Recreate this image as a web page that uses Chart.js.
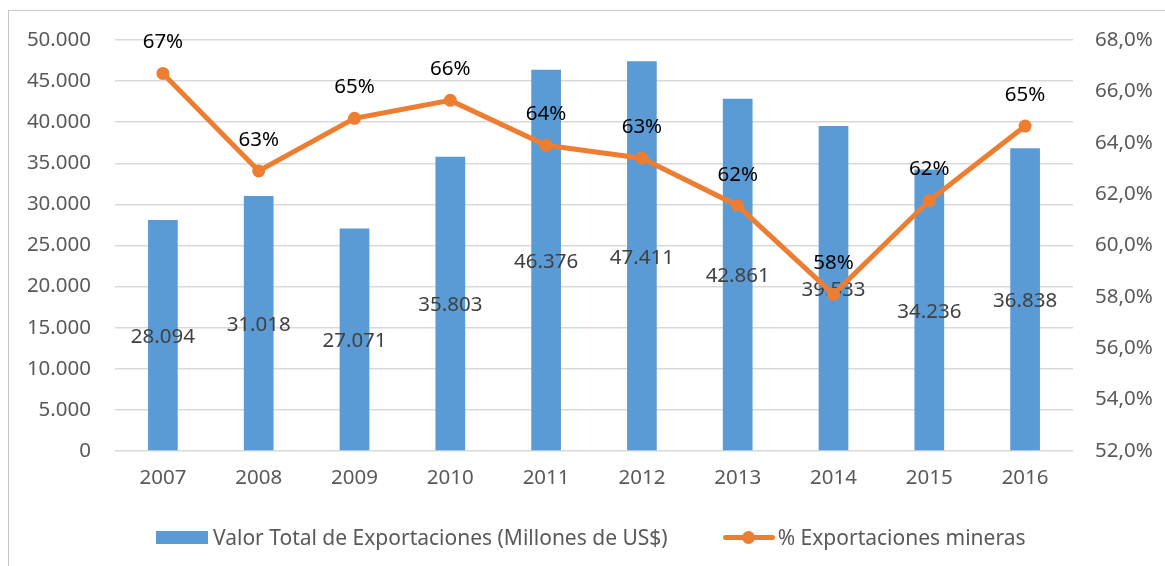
<!DOCTYPE html>
<html>
<head>
<meta charset="utf-8">
<script src="https://cdn.jsdelivr.net/npm/chart.js@4.4.0/dist/chart.umd.min.js"></script>
<style>
  html, body { margin: 0; padding: 0; background: #fff; }
  body { width: 1165px; height: 566px; position: relative; overflow: hidden; font-family: "Noto Sans", sans-serif; }
  #frame { position: absolute; left: 8px; top: 10px; width: 1300px; height: 700px; border-left: 1px solid #c6c6c6; border-top: 1px solid #c6c6c6; }
  #wrap { position: absolute; left: 0; top: 0; width: 1165px; height: 566px; }
  #legend { position: absolute; left: 156px; top: 522px; height: 30px; display: flex; align-items: center; font-size: 21px; color: #595959; white-space: nowrap; }
  .sw-bar { width: 52px; height: 13px; background: #5B9BD5; margin-right: 5px; }
  .sw-line { position: relative; width: 52px; height: 13px; margin-left: 55px; margin-right: 3px; }
  .sw-line .l { position: absolute; left: 0; top: 4px; width: 52px; height: 5px; background: #ED7D31; border-radius: 3px; }
  .sw-line .c { position: absolute; left: 19px; top: 0; width: 13px; height: 13px; background: #ED7D31; border-radius: 50%; }
</style>
</head>
<body>
<div id="frame"></div>
<div id="wrap"><canvas id="c" width="1165" height="566"></canvas></div>
<div id="legend">
  <div class="sw-bar"></div><span>Valor Total de Exportaciones (Millones de US$)</span>
  <div class="sw-line"><div class="l"></div><div class="c"></div></div><span>% Exportaciones mineras</span>
</div>
<script>
const categories = ['2007','2008','2009','2010','2011','2012','2013','2014','2015','2016'];
const exportValues = [28094, 31018, 27071, 35803, 46376, 47411, 42861, 39533, 34236, 36838];
const miningShare = [66.7, 62.9, 64.95, 65.65, 63.9, 63.4, 61.55, 58.1, 61.75, 64.65];
const barLabel = 'Valor Total de Exportaciones (Millones de US$)';
const lineLabel = '% Exportaciones mineras';

const FONT = '"Noto Sans", sans-serif';
function thousands(v) {
  return String(Math.round(v)).replace(/\B(?=(\d{3})+(?!\d))/g, '.');
}

const labelPlugin = {
  id: 'labels',
  afterDatasetDraw(chart, args) {
    const ctx = chart.ctx;
    const meta = args.meta;
    const ds = chart.data.datasets[args.index];
    ctx.save();
    ctx.font = '20.5px ' + FONT;
    ctx.textAlign = 'center';
    ctx.textBaseline = 'middle';
    if (ds.type === 'bar') {
      ctx.fillStyle = '#404040';
      meta.data.forEach((el, i) => {
        ctx.fillText(thousands(ds.data[i]), el.x, (el.y + el.base) / 2 + 2);
      });
    } else {
      ctx.fillStyle = '#000000';
      meta.data.forEach((el, i) => {
        ctx.fillText(Math.round(ds.data[i]) + '%', el.x, el.y - 31);
      });
    }
    ctx.restore();
  }
};

new Chart(document.getElementById('c'), {
  data: {
    labels: categories,
    datasets: [
      {
        type: 'line',
        label: lineLabel,
        data: miningShare,
        yAxisID: 'y2',
        borderColor: '#ED7D31',
        backgroundColor: '#ED7D31',
        borderWidth: 5,
        pointRadius: 6.5,
        pointHoverRadius: 6.5,
        pointBorderWidth: 0,
        tension: 0,
        order: 0
      },
      {
        type: 'bar',
        label: barLabel,
        data: exportValues,
        yAxisID: 'y',
        backgroundColor: '#5B9BD5',
        barPercentage: 0.31,
        categoryPercentage: 1,
        order: 1
      }
    ]
  },
  options: {
    responsive: false,
    animation: false,
    events: [],
    layout: { padding: { top: 40, bottom: 0, left: 0, right: 0 } },
    plugins: { legend: { display: false }, tooltip: { enabled: false } },
    scales: {
      x: {
        grid: { display: false, drawTicks: false },
        border: { display: false },
        ticks: { color: '#595959', font: { family: FONT, size: 20.5 }, padding: 15, maxRotation: 0 },
        afterFit(s) { s.height = 566 - 451; }
      },
      y: {
        position: 'left',
        min: 0, max: 50000,
        ticks: { stepSize: 5000, color: '#595959', font: { family: FONT, size: 20.5 }, padding: 24, callback: v => thousands(v) },
        grid: { color: '#d9d9d9', lineWidth: 1.5, drawTicks: false },
        border: { display: false },
        afterFit(s) { s.width = 115; }
      },
      y2: {
        position: 'right',
        min: 52, max: 68,
        ticks: { stepSize: 2, color: '#595959', font: { family: FONT, size: 20.5 }, padding: 22, callback: v => v.toFixed(1).replace('.', ',') + '%' },
        grid: { display: false, drawTicks: false },
        border: { display: false },
        afterFit(s) { s.width = 1165 - 1073; }
      }
    }
  },
  plugins: [labelPlugin]
});
</script>
</body>
</html>
